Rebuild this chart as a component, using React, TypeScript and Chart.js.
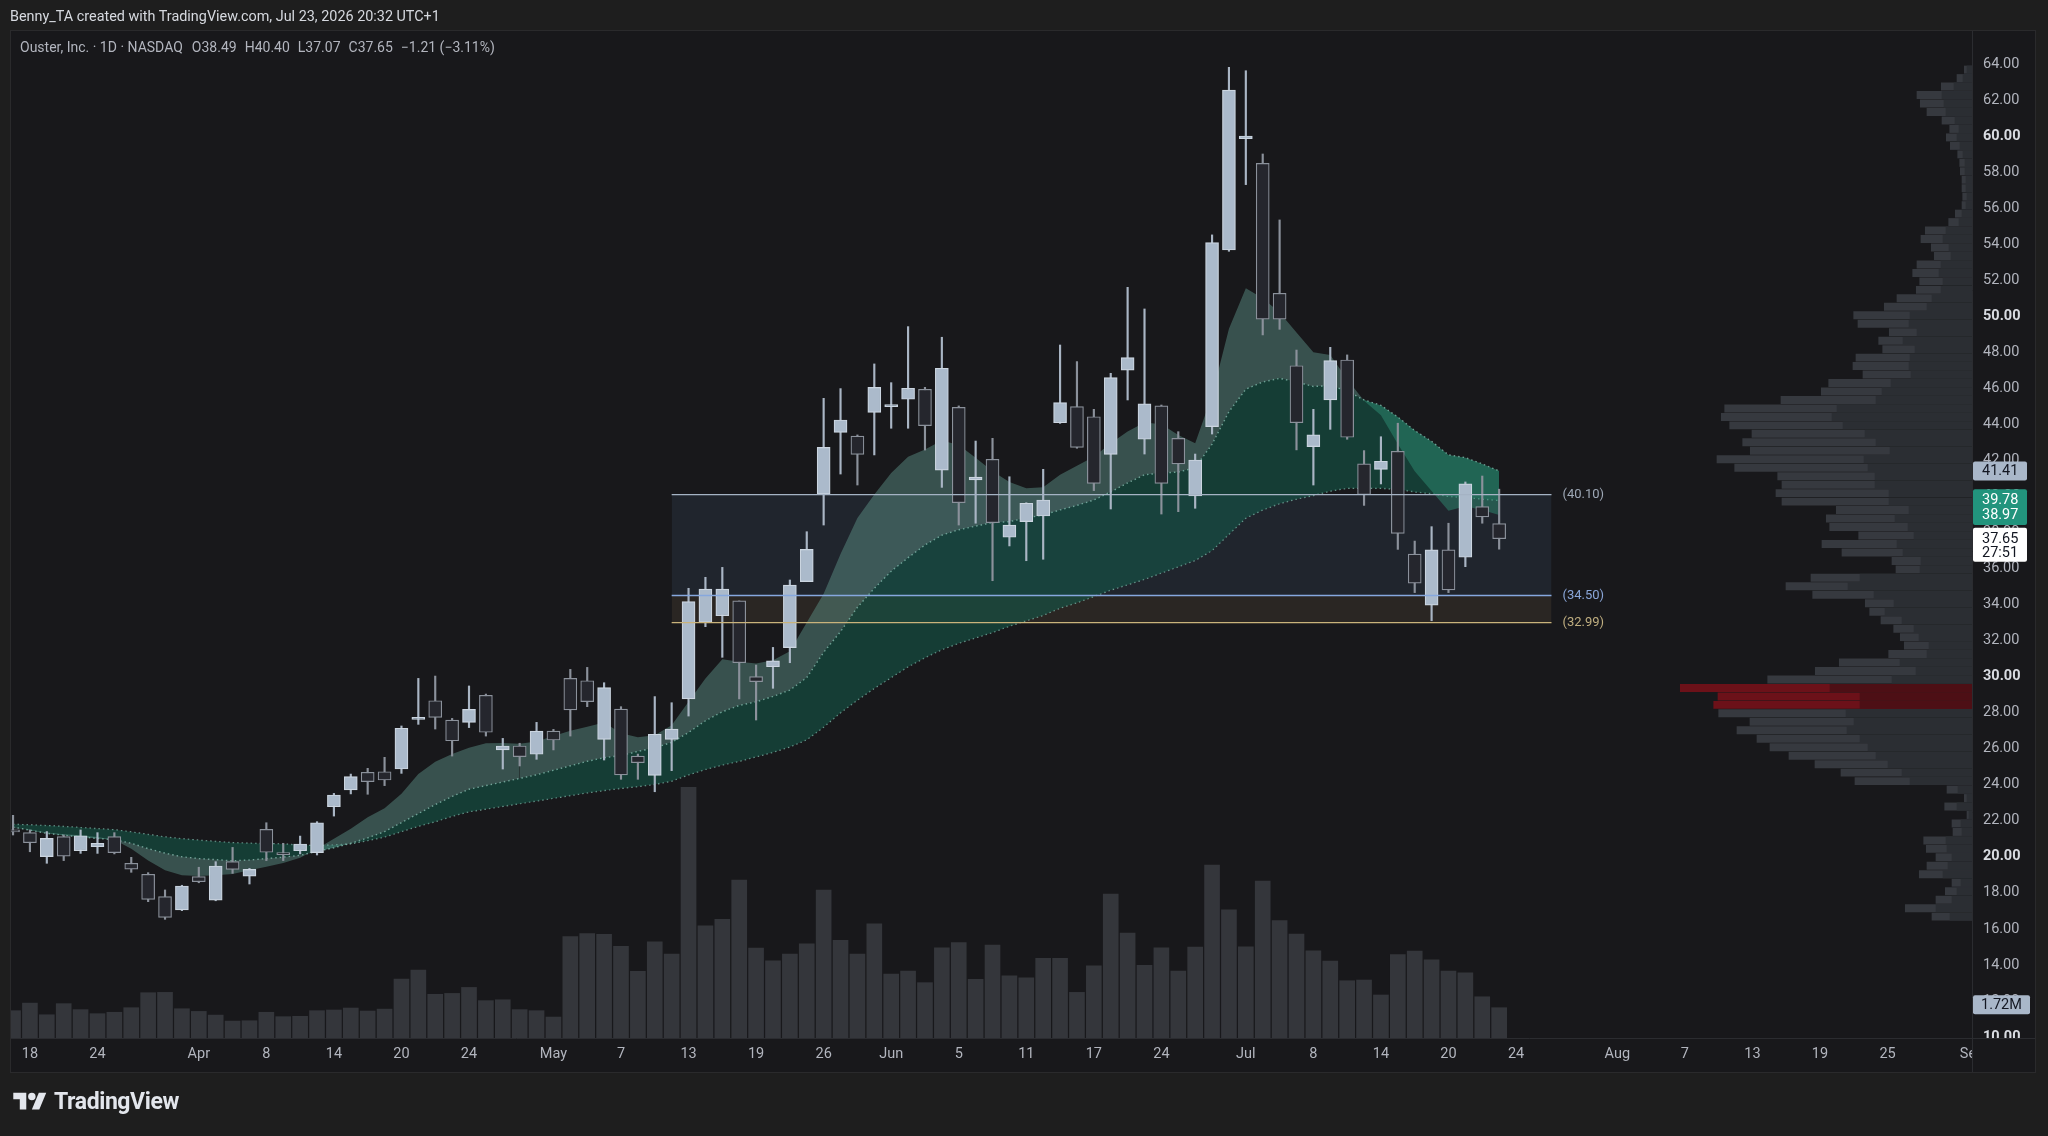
import React, { useEffect, useRef } from "react";
import { Chart, registerables } from "chart.js";

Chart.register(...registerables);

const FONT = 'Roboto, "Noto Sans", "DejaVu Sans", sans-serif';

// ---------------- DATA ----------------
// trading-day index 0 = Mar 17 ... 88 = Jul 23
const opens = [21.42, 21.34, 20.01, 21.12, 20.34, 20.56, 21.12, 19.64, 19.03, 17.79,
  17.05, 18.90, 17.60, 19.73, 18.93, 21.52, 20.16, 20.34, 20.23, 22.78,
  23.71, 24.69, 24.72, 24.87, 27.63, 28.66, 27.59, 27.46, 28.96, 25.93,
  26.15, 25.69, 26.98, 29.90, 29.77, 26.52, 28.20, 25.59, 24.52, 26.52,
  28.76, 33.01, 33.38, 34.20, 30.00, 30.55, 31.61, 35.27, 40.13, 43.55,
  43.35, 44.66, 44.98, 45.39, 45.94, 41.46, 44.94, 40.92, 42.06, 37.73,
  38.60, 38.91, 44.09, 44.98, 44.42, 42.33, 47.01, 43.17, 45.02, 43.22,
  40.02, 43.87, 53.67, 59.85, 58.48, 51.27, 47.25, 42.76, 45.35, 47.57,
  41.80, 41.50, 42.50, 36.80, 33.97, 37.03, 36.62, 39.43, 38.49];
const highs = [22.30, 21.49, 21.40, 21.21, 21.49, 21.34, 21.34, 19.97, 19.12, 18.16,
  18.42, 19.42, 19.73, 20.52, 19.36, 21.89, 20.75, 21.15, 21.95, 23.52,
  24.59, 24.91, 25.52, 27.26, 29.90, 30.03, 27.68, 29.48, 29.03, 26.57,
  26.30, 27.46, 27.07, 30.40, 30.51, 29.66, 28.33, 25.70, 28.89, 28.55,
  34.90, 35.51, 36.06, 34.20, 30.64, 31.62, 35.36, 38.04, 45.44, 45.98,
  43.41, 47.35, 46.31, 49.42, 46.05, 48.83, 45.02, 43.07, 43.22, 41.09,
  39.65, 41.50, 48.40, 47.48, 44.83, 46.83, 51.60, 50.40, 45.07, 43.59,
  42.35, 54.51, 63.81, 63.62, 59.00, 55.34, 48.12, 44.83, 48.27, 47.85,
  42.54, 43.31, 44.06, 37.52, 38.32, 38.51, 40.80, 41.13, 40.40];
const lows = [21.21, 20.28, 19.64, 19.79, 20.19, 20.19, 20.16, 19.14, 17.51, 16.53,
  17.01, 18.56, 17.56, 19.08, 18.49, 19.79, 19.79, 20.16, 20.10, 22.26,
  23.49, 23.47, 23.95, 24.63, 27.35, 27.09, 25.59, 27.17, 26.70, 24.87,
  25.04, 25.41, 25.93, 26.70, 28.33, 25.37, 24.30, 24.30, 23.61, 24.78,
  27.81, 32.77, 31.07, 28.76, 27.59, 29.35, 30.77, 35.27, 38.41, 41.24,
  40.63, 42.30, 43.78, 43.78, 42.57, 40.50, 38.41, 38.51, 35.32, 37.25,
  36.43, 36.51, 44.05, 42.67, 40.32, 39.30, 45.35, 42.35, 39.02, 39.15,
  39.34, 43.46, 53.60, 57.30, 48.96, 49.27, 42.58, 40.63, 43.72, 43.17,
  39.50, 40.69, 37.06, 34.66, 33.10, 34.66, 36.10, 38.51, 37.07];
const closes = [21.38, 20.78, 21.02, 20.04, 21.17, 20.75, 20.23, 19.32, 17.64, 16.64,
  18.38, 18.62, 19.49, 19.30, 19.30, 20.25, 20.12, 20.71, 21.89, 23.43,
  24.45, 24.17, 24.26, 27.13, 27.72, 27.74, 26.44, 28.18, 26.91, 26.15,
  25.56, 26.98, 26.48, 28.15, 28.61, 29.39, 24.54, 25.22, 26.80, 27.09,
  34.16, 34.86, 34.86, 30.77, 29.72, 30.87, 35.08, 37.06, 42.72, 44.24,
  42.33, 46.05, 45.03, 46.00, 43.93, 47.11, 39.65, 41.07, 38.54, 38.41,
  39.62, 39.80, 45.20, 42.72, 40.72, 46.59, 47.70, 45.13, 40.72, 41.80,
  42.02, 54.08, 62.55, 60.00, 49.83, 49.83, 44.09, 43.41, 47.53, 43.28,
  40.10, 41.95, 37.95, 35.18, 37.03, 34.81, 40.69, 38.86, 37.65];
// volume in millions
const volumes = [1.55, 1.98, 1.32, 1.95, 1.61, 1.38, 1.46, 1.72, 2.57, 2.59,
  1.66, 1.51, 1.30, 0.96, 0.98, 1.46, 1.21, 1.23, 1.55, 1.59,
  1.70, 1.53, 1.64, 3.35, 3.86, 2.48, 2.53, 2.87, 2.12, 2.17,
  1.61, 1.55, 1.19, 5.75, 5.92, 5.88, 5.20, 3.78, 5.46, 4.76,
  14.23, 6.37, 6.73, 8.96, 5.10, 4.38, 4.76, 5.35, 8.39, 5.54,
  4.76, 6.48, 3.63, 3.80, 3.14, 5.12, 5.42, 3.33, 5.27, 3.53,
  3.42, 4.52, 4.52, 2.59, 4.10, 8.16, 5.95, 4.12, 5.12, 3.80,
  5.16, 9.81, 7.28, 5.18, 8.90, 6.67, 5.90, 4.95, 4.37, 3.25,
  3.29, 2.44, 4.73, 4.93, 4.44, 3.80, 3.70, 2.34, 1.72];
// moving-average ribbon lines (fast / mid / slow)
const emaFast = [21.60, 21.50, 21.35, 21.25, 21.20, 21.10, 20.95, 20.45, 19.80, 19.25,
  18.98, 18.93, 18.98, 19.05, 19.25, 19.45, 19.65, 19.95, 20.45, 21.00,
  21.55, 22.20, 22.70, 23.50, 24.60, 25.28, 25.70, 26.05, 26.30, 26.32,
  26.28, 26.40, 26.70, 27.00, 27.22, 27.45, 26.85, 26.63, 26.75, 27.30,
  28.60, 29.90, 30.96, 30.83, 30.72, 30.90, 31.40, 33.00, 34.60, 36.80,
  38.80, 40.10, 41.30, 42.20, 42.60, 43.10, 42.85, 42.15, 41.40, 40.80,
  40.45, 40.50, 41.20, 41.70, 42.20, 42.95, 43.60, 44.10, 44.00, 43.40,
  42.95, 45.60, 49.30, 51.55, 51.00, 50.20, 49.10, 48.00, 47.85, 46.50,
  45.30, 44.50, 42.90, 41.40, 40.30, 39.20, 39.45, 39.25, 38.97];
const emaMid = [21.65, 21.48, 21.30, 21.20, 21.10, 21.02, 20.95, 20.75, 20.45, 20.20,
  20.00, 19.90, 19.84, 19.78, 19.82, 19.90, 19.98, 20.08, 20.30, 20.50,
  20.75, 21.05, 21.40, 21.90, 22.40, 22.90, 23.35, 23.75, 23.95, 24.15,
  24.35, 24.55, 24.80, 25.05, 25.30, 25.50, 25.62, 25.85, 26.05, 26.35,
  26.90, 27.55, 28.05, 28.40, 28.60, 28.90, 29.25, 29.95, 31.35, 32.50,
  33.85, 34.90, 35.85, 36.60, 37.30, 37.85, 38.15, 38.35, 38.55, 38.60,
  38.80, 38.97, 39.25, 39.50, 39.80, 40.25, 40.75, 41.20, 41.30, 41.35,
  41.60, 42.90, 44.70, 45.95, 46.35, 46.55, 46.35, 46.10, 46.15, 45.85,
  45.35, 45.05, 44.40, 43.65, 43.05, 42.30, 42.15, 41.80, 41.41];
const emaSlow = [21.80, 21.77, 21.73, 21.68, 21.62, 21.56, 21.50, 21.38, 21.24, 21.10,
  21.00, 20.92, 20.85, 20.78, 20.75, 20.73, 20.71, 20.65, 20.62, 20.65,
  20.72, 20.90, 21.10, 21.40, 21.70, 21.95, 22.25, 22.50, 22.65, 22.80,
  22.95, 23.10, 23.25, 23.40, 23.55, 23.68, 23.80, 23.90, 24.02, 24.20,
  24.55, 24.85, 25.10, 25.30, 25.55, 25.80, 26.10, 26.50, 27.20, 28.00,
  28.70, 29.35, 29.95, 30.55, 31.05, 31.50, 31.85, 32.15, 32.45, 32.80,
  33.10, 33.40, 33.80, 34.10, 34.45, 34.80, 35.10, 35.40, 35.75, 36.10,
  36.45, 37.00, 37.90, 38.80, 39.25, 39.60, 39.85, 40.05, 40.30, 40.45,
  40.45, 40.45, 40.40, 40.25, 40.15, 40.00, 39.95, 39.85, 39.78];
// visible-range volume profile rows (price, total, inner part)
const vpPrices = [63.68, 63.21, 62.74, 62.27, 61.80, 61.33, 60.86, 60.39, 59.92, 59.45,
  58.98, 58.51, 58.04, 57.57, 57.10, 56.63, 56.16, 55.69, 55.22, 54.75,
  54.28, 53.81, 53.34, 52.87, 52.40, 51.93, 51.46, 50.99, 50.52, 50.05,
  49.58, 49.11, 48.64, 48.17, 47.70, 47.23, 46.76, 46.29, 45.82, 45.35,
  44.88, 44.41, 43.94, 43.47, 43.00, 42.53, 42.06, 41.59, 41.12, 40.65,
  40.18, 39.71, 39.24, 38.77, 38.30, 37.83, 37.36, 36.89, 36.42, 35.95,
  35.48, 35.01, 34.54, 34.07, 33.60, 33.13, 32.66, 32.19, 31.72, 31.25,
  30.78, 30.31, 29.84, 29.37, 28.90, 28.43, 27.96, 27.49, 27.02, 26.55,
  26.08, 25.61, 25.14, 24.67, 24.20, 23.73, 23.26, 22.79, 22.32, 21.85,
  21.38, 20.91, 20.44, 19.97, 19.50, 19.03, 18.56, 18.09, 17.62, 17.15,
  16.68];
const vpTotal = [7.7, 15, 30.7, 55, 51.7, 45, 30, 22.3, 25.7, 21.7,
  14.3, 12.3, 11.7, 10, 10, 9.3, 10, 16.7, 23.3, 46.7,
  51, 40.7, 37.7, 55, 59.3, 52.3, 55.7, 75, 87.7, 118.3,
  114, 82.7, 93.3, 89.3, 116, 119, 109, 143.3, 150.7, 191,
  247.3, 250.7, 242.3, 220, 229.3, 221.7, 255, 237.3, 194.3, 190,
  196, 190, 135.7, 145.7, 142.3, 113.3, 150, 130, 80, 76,
  161, 186, 159.3, 106.7, 102.3, 91, 78.3, 71.7, 67.7, 83.3,
  132.7, 156.7, 204.3, 291.7, 254, 258.3, 253.3, 222, 235, 215,
  202, 183, 157, 131, 117, 25, 7.7, 27.3, 5, 20,
  19, 48.3, 45.7, 36, 45, 52.7, 20, 26.7, 36, 66.7,
  40];
const vpInner = [5, 9, 18, 30, 28, 26, 17, 13, 15, 12,
  9, 7, 7, 6, 6, 5, 6, 10, 13, 26,
  29, 23, 21, 31, 33, 29, 31, 40, 45, 62,
  63, 55, 69, 57, 62, 63, 61, 81, 90, 96,
  135, 140, 129, 107, 96, 82, 108, 104, 97, 97,
  83, 83, 63, 77, 64, 58, 75, 69, 51, 52,
  112, 124, 98, 78, 87, 70, 58, 53, 43, 45,
  72, 56, 80, 142, 112, 112, 126, 118, 125, 112,
  104, 96, 84, 70, 62, 14, 5, 15, 3, 11,
  10, 26, 25, 20, 24, 29, 11, 15, 20, 36,
  22];
const vpPocPrices = [29.37, 28.90, 28.43];

const xTickIdx = [1, 5, 11, 15, 19, 23, 27, 32, 36, 40, 44, 48, 52, 56, 60, 64, 68, 73, 77, 81, 85, 89, 95, 99, 103, 107, 111, 116];
const xTickLabels = ["18", "24", "Apr", "8", "14", "20", "24", "May", "7", "13", "19", "26", "Jun", "5", "11", "17", "24", "Jul", "8", "14", "20", "24", "Aug", "7", "13", "19", "25", "Sep"];
const yTickValues = [10, 12, 14, 16, 18, 20, 22, 24, 26, 28, 30, 32, 34, 36, 38, 40, 42, 44, 46, 48, 50, 52, 54, 56, 58, 60, 62, 64];

const boxLevels = [40.10, 34.50, 32.99];
const boxLabelTexts = ["(40.10)", "(34.50)", "(32.99)"];
const boxStartIdx = 39.0;
const boxEndIdx = 91.1;
const countdownText = "27:51";

// ---------------- STYLE ----------------
const OUTER_BG = "#1e1e1e";
const PANEL_BG = "#18181b";
const SEP = "#2b2c30";
const UP_FILL = "#abbacb";
const UP_BORDER = "#cbd5e0";
const DN_FILL = "#25262d";
const DN_BORDER = "#8b919b";
const UP_WICK = "#a9b5c4";
const DN_WICK = "#8b919b";
const VOL_COLOR = "#34363b";
const VP_OUTER = "#36393f";
const VP_INNER = "#2b2e33";
const VP_RED_OUTER = "#6c1119";
const VP_RED_INNER = "#4d0f15";
const RIB_GRAY = "rgba(100,158,146,0.43)";
const RIB_TEAL = "rgba(48,150,122,0.45)";
const RIB_DARK = "rgba(20,86,71,0.6)";
const RIB_DOT = "rgba(150,205,192,0.75)";
const BOX_BLUE = "rgba(88,117,156,0.14)";
const BOX_BROWN = "rgba(146,120,90,0.15)";
const BOX_LINE_COLORS = ["#a5b3c4", "#86a8de", "#c9b37b"];
const BOX_LABEL_COLORS = ["#9ea8b6", "#8aa6d8", "#bfae80"];
const TICK = "#b2b5be";
const TICK_BOLD = "#d9dce2";

const lastIdx = closes.length - 1;

function fmtSigned(v: number) {
  const s = Math.abs(v).toFixed(2);
  return (v < 0 ? "\u2212" : "+") + s;
}

export default function App() {
  const canvasRef = useRef<HTMLCanvasElement | null>(null);

  useEffect(() => {
    const canvas = canvasRef.current;
    if (!canvas) return;

    const isUp = (i: number) => closes[i] >= opens[i];
    const seriesPts = (arr: number[], from: number, to: number) => {
      const out: { x: number; y: number }[] = [];
      for (let i = from; i <= to; i++) out.push({ x: i, y: arr[i] });
      return out;
    };
    const boxPts = (lvl: number) => [{ x: boxStartIdx, y: lvl }, { x: boxEndIdx, y: lvl }];
    const isPoc = (p: number) => vpPocPrices.indexOf(p) >= 0;

    const datasets: any[] = [];
    // 0,1,2: box fills
    datasets.push({ type: "line", data: boxPts(boxLevels[0]), borderWidth: 0, pointRadius: 0, fill: { target: 1, above: BOX_BLUE, below: BOX_BLUE }, order: 60 });
    datasets.push({ type: "line", data: boxPts(boxLevels[1]), borderWidth: 0, pointRadius: 0, fill: { target: 2, above: BOX_BROWN, below: BOX_BROWN }, order: 59 });
    datasets.push({ type: "line", data: boxPts(boxLevels[2]), borderWidth: 0, pointRadius: 0, fill: false, order: 58 });
    // 3: slow line
    datasets.push({ type: "line", data: seriesPts(emaSlow, 0, lastIdx), borderColor: RIB_DOT, borderWidth: 1.4, borderDash: [1.5, 3], pointRadius: 0, fill: false, order: 50 });
    // 4: mid line, fill to slow
    datasets.push({ type: "line", data: seriesPts(emaMid, 0, lastIdx), borderColor: RIB_DOT, borderWidth: 1.4, borderDash: [1.5, 3], pointRadius: 0, fill: { target: 3, above: RIB_DARK, below: RIB_DARK }, order: 49 });
    // 5: fast (early part), fill to mid
    datasets.push({ type: "line", data: seriesPts(emaFast, 0, 30), borderWidth: 0, borderColor: "rgba(0,0,0,0)", pointRadius: 0, fill: { target: 4, above: RIB_GRAY, below: RIB_GRAY }, order: 48 });
    // 6: fast (later part), fill to mid
    datasets.push({ type: "line", data: seriesPts(emaFast, 30, lastIdx), borderWidth: 0, borderColor: "rgba(0,0,0,0)", pointRadius: 0, fill: { target: 4, above: RIB_GRAY, below: RIB_TEAL }, order: 47 });
    // 7: volume
    datasets.push({ type: "bar", data: volumes.map((v, i) => ({ x: i, y: v })), yAxisID: "yv", barThickness: 15, backgroundColor: VOL_COLOR, grouped: false, order: 45 });
    // 8,9: volume profile
    datasets.push({
      type: "bar", indexAxis: "y", xAxisID: "xvp", yAxisID: "y",
      data: vpPrices.map((p, i) => ({ x: vpTotal[i], y: p })),
      barThickness: 7.3, grouped: false, order: 44,
      backgroundColor: (c: any) => (isPoc(vpPrices[c.dataIndex]) ? VP_RED_OUTER : VP_OUTER),
    });
    datasets.push({
      type: "bar", indexAxis: "y", xAxisID: "xvp", yAxisID: "y",
      data: vpPrices.map((p, i) => ({ x: vpInner[i], y: p })),
      barThickness: 7.3, grouped: false, order: 43,
      backgroundColor: (c: any) => (isPoc(vpPrices[c.dataIndex]) ? VP_RED_INNER : VP_INNER),
    });
    // 10: wicks
    datasets.push({
      type: "bar", data: closes.map((_, i) => ({ x: i, y: [lows[i], highs[i]] })),
      barThickness: 1.5, grouped: false, order: 20,
      backgroundColor: (c: any) => (isUp(c.dataIndex) ? UP_WICK : DN_WICK),
    });
    // 11: bodies
    datasets.push({
      type: "bar", data: closes.map((_, i) => ({ x: i, y: [opens[i], closes[i]] })),
      barThickness: 13, grouped: false, order: 10, borderWidth: 1.2, borderSkipped: false, minBarLength: 2,
      backgroundColor: (c: any) => (isUp(c.dataIndex) ? UP_FILL : DN_FILL),
      borderColor: (c: any) => (isUp(c.dataIndex) ? UP_BORDER : DN_BORDER),
    });
    // 12-14: box lines
    boxLevels.forEach((lvl, k) => {
      datasets.push({ type: "line", data: boxPts(lvl), borderColor: BOX_LINE_COLORS[k], borderWidth: 1.3, pointRadius: 0, fill: false, order: 5 - k * 0.1 });
    });

    const decor = {
      id: "tvDecor",
      beforeDraw(chart: any) {
        const ctx = chart.ctx as CanvasRenderingContext2D;
        ctx.save();
        ctx.fillStyle = OUTER_BG;
        ctx.fillRect(0, 0, chart.width, chart.height);
        ctx.fillStyle = PANEL_BG;
        ctx.fillRect(10, 30, 2026, 1043);
        ctx.restore();
      },
      afterDraw(chart: any) {
        const ctx = chart.ctx as CanvasRenderingContext2D;
        const ys = chart.scales.y;
        const xs = chart.scales.x;
        const yv = chart.scales.yv;
        const area = chart.chartArea;
        ctx.save();
        // bottom-right corner of price scale
        ctx.fillStyle = PANEL_BG;
        ctx.fillRect(area.right + 1, area.bottom + 1, 2036 - area.right - 1, 1073 - area.bottom - 1);
        // separators / border
        ctx.strokeStyle = SEP;
        ctx.lineWidth = 1;
        ctx.beginPath();
        ctx.moveTo(area.right + 0.5, 30);
        ctx.lineTo(area.right + 0.5, 1073);
        ctx.moveTo(10, area.bottom + 0.5);
        ctx.lineTo(2036, area.bottom + 0.5);
        ctx.stroke();
        ctx.strokeStyle = "#2a2a2c";
        ctx.strokeRect(10.5, 30.5, 2025, 1042);

        // box labels
        ctx.font = `13px ${FONT}`;
        ctx.textBaseline = "middle";
        ctx.textAlign = "left";
        const lx = xs.getPixelForValue(boxEndIdx) + 11;
        boxLevels.forEach((lvl, k) => {
          ctx.fillStyle = BOX_LABEL_COLORS[k];
          ctx.fillText(boxLabelTexts[k], lx, ys.getPixelForValue(lvl) + 0.5);
        });

        // price-scale badges
        const bx = area.right + 1;
        const rr = (x: number, y: number, w: number, h: number, r: number) => {
          ctx.beginPath();
          ctx.moveTo(x + r, y);
          ctx.lineTo(x + w - r, y);
          ctx.quadraticCurveTo(x + w, y, x + w, y + r);
          ctx.lineTo(x + w, y + h - r);
          ctx.quadraticCurveTo(x + w, y + h, x + w - r, y + h);
          ctx.lineTo(x + r, y + h);
          ctx.quadraticCurveTo(x, y + h, x, y + h - r);
          ctx.lineTo(x, y + r);
          ctx.quadraticCurveTo(x, y, x + r, y);
          ctx.closePath();
        };
        ctx.font = `14.5px ${FONT}`;
        const tx = area.right + 10;
        // mid line value
        const yMid = ys.getPixelForValue(emaMid[lastIdx]);
        ctx.fillStyle = "#a9b7c9";
        rr(bx, yMid - 9.5, 54, 19, 2);
        ctx.fill();
        ctx.fillStyle = "#131722";
        ctx.fillText(emaMid[lastIdx].toFixed(2), tx, yMid + 0.5);
        // slow + fast values
        const ySl = ys.getPixelForValue(emaSlow[lastIdx]);
        const yFa = ys.getPixelForValue(emaFast[lastIdx]);
        ctx.fillStyle = "#22947d";
        rr(bx, ySl - 11, 54, yFa - ySl + 21, 2);
        ctx.fill();
        ctx.fillStyle = "#ffffff";
        ctx.fillText(emaSlow[lastIdx].toFixed(2), tx, ySl + 0.5);
        ctx.fillText(emaFast[lastIdx].toFixed(2), tx, yFa + 0.5);
        // last price + countdown
        const yC = ys.getPixelForValue(closes[lastIdx]);
        ctx.fillStyle = "#ffffff";
        rr(bx, yC - 11, 54, 34, 2);
        ctx.fill();
        ctx.fillStyle = "#131722";
        ctx.fillText(closes[lastIdx].toFixed(2), tx, yC + 0.5);
        ctx.fillText(countdownText, tx, yC + 14.5);
        // volume badge
        const yV = yv.getPixelForValue(volumes[lastIdx]) - 3;
        ctx.fillStyle = "#a9b7c9";
        rr(bx, yV - 9.5, 57, 19, 2);
        ctx.fill();
        ctx.fillStyle = "#131722";
        ctx.fillText(volumes[lastIdx].toFixed(2) + "M", tx - 1, yV + 0.5);
        ctx.restore();
      },
    };

    const chart = new Chart(canvas, {
      type: "bar",
      data: { datasets },
      plugins: [decor],
      options: {
        animation: false,
        responsive: false,
        events: [],
        layout: { padding: { left: 10, top: 30, right: 12, bottom: 63 } },
        plugins: { legend: { display: false }, tooltip: { enabled: false } },
        elements: { line: { tension: 0 } },
        scales: {
          x: {
            type: "linear", position: "bottom", min: -0.18, max: 116, offset: false,
            grid: { display: false, drawTicks: false, offset: false }, border: { display: false },
            ticks: {
              autoSkip: false, maxRotation: 0, padding: 8, color: TICK,
              font: { family: FONT, size: 14.5 },
              callback: (v: any) => {
                const k = xTickIdx.indexOf(Number(v));
                return k >= 0 ? xTickLabels[k] : "";
              },
            },
            afterBuildTicks: (s: any) => { s.ticks = xTickIdx.map((v) => ({ value: v })); },
            afterFit: (s: any) => { s.height = 35; },
          },
          y: {
            type: "linear", position: "right", min: 9.945, max: 65.88, offset: false,
            grid: { display: false, drawTicks: false, offset: false }, border: { display: false },
            ticks: {
              padding: 11, crossAlign: "near",
              color: (c: any) => (c.tick && c.tick.value % 10 === 0 ? TICK_BOLD : TICK),
              font: (c: any) => ({ family: FONT, size: 14.5, weight: c.tick && c.tick.value % 10 === 0 ? "bold" : "normal" }),
              callback: (v: any) => Number(v).toFixed(2),
            },
            afterBuildTicks: (s: any) => { s.ticks = yTickValues.map((v) => ({ value: v })); },
            afterFit: (s: any) => { s.width = 64; },
          },
          yv: { type: "linear", display: false, min: 0, max: 57.2, offset: false },
          xvp: { type: "linear", display: false, min: 0, max: 1962, reverse: true, offset: false, grid: { offset: false } },
        },
      } as any,
    });
    return () => chart.destroy();
  }, []);

  const prevClose = closes[lastIdx - 1];
  const chg = closes[lastIdx] - prevClose;
  const pct = (chg / prevClose) * 100;

  return (
    <div style={{ position: "fixed", left: 0, top: 0, width: 2048, height: 1136, background: OUTER_BG, overflow: "hidden", fontFamily: FONT }}>
      <canvas ref={canvasRef} width={2048} height={1136} style={{ position: "absolute", left: 0, top: 0, width: 2048, height: 1136 }} />
      <div style={{ position: "absolute", left: 10, top: 8, fontSize: 14.4, lineHeight: "18px", color: "#d6d9df", whiteSpace: "pre" }}>
        Benny_TA created with TradingView.com, Jul 23, 2026 20:32 UTC+1
      </div>
      <div style={{ position: "absolute", left: 20, top: 38, fontSize: 14, lineHeight: "18px", color: "#b2b5be", whiteSpace: "pre" }}>
        <span>Ouster, Inc. · 1D · NASDAQ</span>
        <span style={{ marginLeft: 9 }}>O{opens[lastIdx].toFixed(2)}</span>
        <span style={{ marginLeft: 8 }}>H{highs[lastIdx].toFixed(2)}</span>
        <span style={{ marginLeft: 8 }}>L{lows[lastIdx].toFixed(2)}</span>
        <span style={{ marginLeft: 8 }}>C{closes[lastIdx].toFixed(2)}</span>
        <span style={{ marginLeft: 8 }}>{fmtSigned(chg)} ({fmtSigned(pct)}%)</span>
      </div>
      <div style={{ position: "absolute", left: 13, top: 1089, height: 26, display: "flex", alignItems: "center" }}>
        <svg width="34" height="26" viewBox="0 0 36 28">
          <path d="M14 22H7V11H0V4h14v18z" fill="#e3e6ec" />
          <path d="M28 22h-8l7.5-18h8L28 22z" fill="#e3e6ec" />
          <circle cx="20" cy="8" r="4" fill="#e3e6ec" />
        </svg>
        <span style={{ marginLeft: 7, fontSize: 23, fontWeight: 700, color: "#e3e6ec", letterSpacing: -0.4, lineHeight: "26px" }}>TradingView</span>
      </div>
    </div>
  );
}
